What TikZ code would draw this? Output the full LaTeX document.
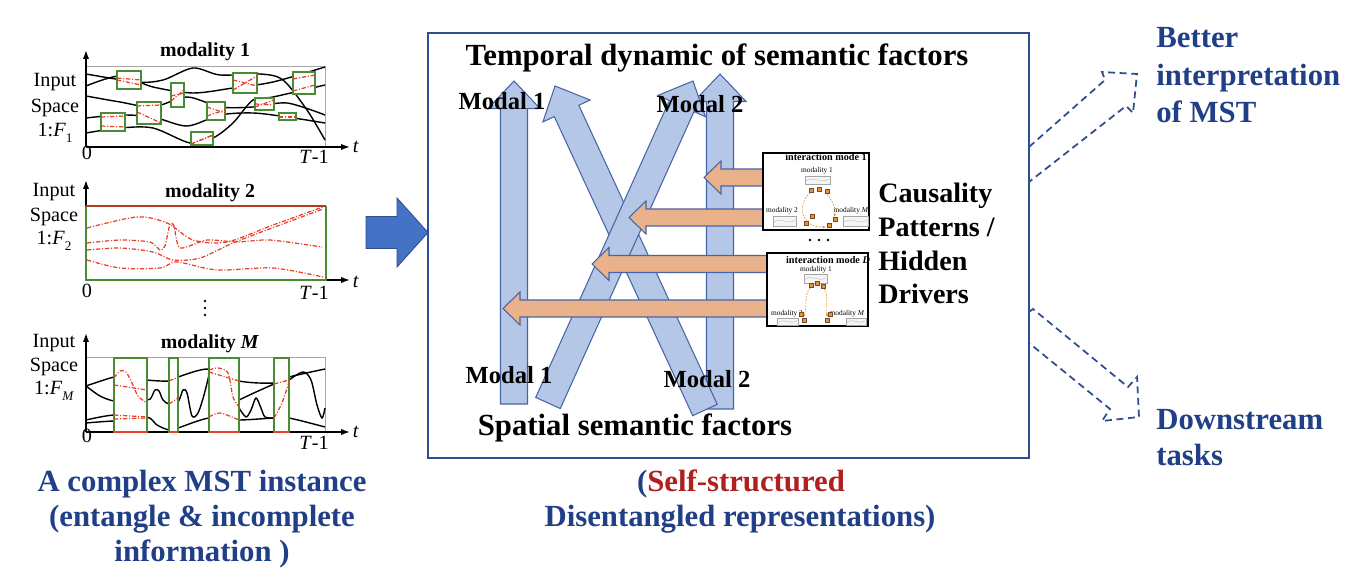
\documentclass[tikz,border=0pt]{standalone}
\usepackage{fontspec}
\setmainfont{Liberation Serif}
\usetikzlibrary{calc,arrows.meta}

\definecolor{mstblue}{RGB}{33,63,135}
\definecolor{selfred}{RGB}{176,32,30}
\definecolor{arrowfill}{RGB}{180,199,231}
\definecolor{arrowline}{RGB}{72,100,168}
\definecolor{bigblue}{RGB}{68,114,196}
\definecolor{orangefill}{RGB}{233,178,138}
\definecolor{boxline}{RGB}{47,78,143}
\definecolor{gapgreen}{RGB}{72,140,52}
\definecolor{missred}{RGB}{232,64,40}
\definecolor{topred}{RGB}{178,58,30}
\definecolor{sqorange}{RGB}{232,146,56}

% block arrow: style, tail, tip, half shaft, half head, head length
\newcommand{\blockarrow}[6]{%
  \coordinate (ba-base) at ($(#3)!#6!(#2)$);
  \draw[#1] ($(#2)!#4!90:(#3)$) -- ($(ba-base)!#4!90:(#3)$) -- ($(ba-base)!#5!90:(#3)$) -- (#3)
    -- ($(ba-base)!#5!-90:(#3)$) -- ($(ba-base)!#4!-90:(#3)$) -- ($(#2)!#4!-90:(#3)$) -- cycle;}
\newcommand{\idx}[1]{\raisebox{-0.25em}{\fontsize{7.5}{8}\selectfont #1}}

\begin{document}
\begin{tikzpicture}[x=0.02cm, y=-0.02cm,
  bigtext/.style={font=\fontsize{17.5}{20}\selectfont\bfseries, inner sep=0pt, anchor=base},
  causetext/.style={font=\fontsize{16}{19}\selectfont\bfseries, inner sep=0pt, anchor=base west},
  modaltext/.style={font=\fontsize{14}{16}\selectfont\bfseries, inner sep=0pt, anchor=base},
  axislabel/.style={font=\fontsize{11.5}{13}\selectfont, inner sep=0pt, anchor=base},
  plottitle/.style={font=\fontsize{11.3}{13}\selectfont\bfseries, inner sep=0pt, anchor=base},
  sigline/.style={line width=0.8pt},
  missline/.style={missred, line width=0.7pt, dash pattern=on 2.5pt off 1pt on 0.6pt off 1pt},
  gapbox/.style={gapgreen, line width=0.7pt, fill=white},
  plotaxis/.style={-{Latex[length=5pt,width=3.5pt]}, line width=0.8pt},
  bluearrow/.style={draw=arrowline, fill=arrowfill, line width=0.6pt},
  orangearrow/.style={draw=arrowline, fill=orangefill, line width=0.6pt},
  inarrow/.style={draw=boxline, fill=bigblue, line width=0.5pt},
  dasharrow/.style={draw=boxline, line width=1pt, dash pattern=on 4pt off 2.6pt},
  imbox/.style={draw=black, fill=white, line width=0.6pt, inner sep=0pt},
  imtitle/.style={font=\fontsize{5.8}{6}\selectfont\bfseries, inner sep=0pt, anchor=base},
  imlabel/.style={font=\fontsize{4.2}{5}\selectfont, inner sep=0pt, anchor=base},
  thumb/.style={draw=gray!70, fill=gray!8, line width=0.3pt},
  sq/.style={draw=brown!60!black, fill=sqorange, line width=0.2pt, minimum size=0.07cm, inner sep=0pt},
  flow/.style={sqorange, line width=0.35pt, dash pattern=on 1pt off 0.7pt, -{Latex[length=1.8pt,width=1.5pt]}}
  ]
\fill[white] (0,0) rectangle (1348,580);
\useasboundingbox (0,0) rectangle (1348,580);

% modality 1
\draw[gray!70, line width=0.5pt] (86,66) rectangle (325,147);
\draw[sigline] plot[smooth] coordinates {(86,74) (137,82) (163,80) (193,68) (220,75) (260,74) (283,80) (307,110) (325,140)};
\draw[sigline] plot[smooth] coordinates {(86,86) (120,76) (153,87) (193,93) (233,88) (273,82) (325,67)};
\draw[sigline] plot[smooth] coordinates {(86,96) (120,102) (153,107) (187,97) (220,107) (253,107) (287,103) (325,115)};
\draw[sigline] plot[smooth] coordinates {(86,118) (120,115) (153,117) (187,126) (220,115) (253,113) (287,117) (325,123)};
\draw[sigline] plot[smooth] coordinates {(86,133) (120,128) (153,128) (190,143) (213,138) (233,123) (253,100) (273,97) (325,85)};
\foreach \xa/\ya/\xb/\yb/\pa/\qa/\pb/\qb in {117/71/141/89/78/80/80/85, 171/83/184/107/101/90/96/93,
    137/102/161/124/106/105/112/123, 101/113/125/131/117/116/126/127, 191/132/213/145/144/135/144/135,
    207/102/225/120/107/113/116/110, 233/73/257/93/80/86/90/76, 255/98/274/110/107/100/104/105,
    279/113/296/120/117/117/117/117, 293/72/315/94/79/75/91/85} {
  \draw[gapbox] (\xa,\ya) rectangle (\xb,\yb);
  \draw[missline] (\xa,\pa) -- (\xb,\qa);
  \draw[missline] (\xa,\pb) -- (\xb,\qb);
}
\draw[plotaxis] (86,147) -- (86,50);
\draw[plotaxis] (86,147) -- (350,147);
\node[plottitle] (mt1) at (205,57) {modality 1};
\node[axislabel] (in1) at (55,87) {Input};
\node[axislabel] (sp1) at (55,113) {Space};
\node[axislabel] (fd1) at (55,137) {1:\textit{F}\idx{1}};
\node[axislabel] (z1) at (87,160) {0};
\node[axislabel] (e1) at (314,164) {\textit{T}-1};
\node[axislabel] (t1) at (356,153) {\textit{t}};

% modality 2
\draw[plotaxis] (86,280) -- (86,180);
\draw[plotaxis] (86,280) -- (350,280);
\draw[gapgreen, line width=0.9pt] (86,206) -- (86,280) -- (326,280) -- (326,206);
\draw[topred, line width=0.9pt] (86,206) -- (326,206);
\draw[missline] plot[smooth] coordinates {(87,228) (137,217) (167,223) (193,240) (227,242) (273,225) (323,207)};
\draw[missline] plot[smooth, tension=0.4] coordinates {(87,243) (120,240) (150,242) (160,250) (165,246) (170,224) (174,226) (180,248) (207,240) (237,242) (270,240) (322,247)};
\draw[missline] plot[smooth] coordinates {(87,250) (120,248) (153,252) (173,260) (200,258) (233,243) (280,225) (323,209)};
\draw[missline] plot[smooth] coordinates {(87,260) (120,268) (160,268) (177,262) (217,270) (273,268) (323,277)};
\node[plottitle] (mt2) at (210,198) {modality 2};
\node[axislabel] (in2) at (54,197) {Input};
\node[axislabel] (sp2) at (54,222) {Space};
\node[axislabel] (fd2) at (54,245) {1:\textit{F}\idx{2}};
\node[axislabel] (z2) at (87,298) {0};
\node[axislabel] (e2) at (314,300) {\textit{T}-1};
\node[axislabel] (t2) at (356,288) {\textit{t}};
\foreach \yy in {301,308,315} \fill (205,\yy) circle (1.3);

% modality M
\draw[gray!70, line width=0.5pt] (86,357) rectangle (325,432);
\draw[sigline] plot[smooth] coordinates {(86,386) (114,377) (130,376) (147,380) (169,381) (178,377) (209,369) (239,381) (274,383) (289,377) (325,369)};
\draw[sigline] plot[smooth, tension=0.5] coordinates {(86,386) (100,396) (114,401) (130,401) (147,400) (151,398) (155,390) (159,391) (163,400) (169,404) (178,402) (183,390) (187,393) (192,416) (198,413) (204,395) (209,375)};
\draw[sigline] plot[smooth, tension=0.5] coordinates {(239,408) (246,417) (251,410) (256,398) (261,408) (265,417) (274,418)};
\draw[sigline] plot[smooth] coordinates {(239,400) (256,392) (274,384)};
\draw[sigline] plot[smooth, tension=0.5] coordinates {(289,380) (303,372) (311,380) (317,405) (322,418) (325,408)};
\draw[sigline] plot[smooth] coordinates {(86,420) (114,415) (147,417) (157,425) (169,430) (178,428) (209,418) (239,420) (274,418) (289,418) (325,427)};
\draw[sigline] plot[smooth] coordinates {(86,423) (114,421) (147,421)};
\draw[plotaxis] (86,432) -- (86,333);
\draw[plotaxis] (86,432) -- (350,432);
\foreach \xa/\xb in {114/147, 169/178, 209/239, 274/289} {
  \draw[gapbox] (\xa,358) rectangle (\xb,432);
  \draw[missred, line width=0.9pt] (\xa,432) -- (\xb,432);
}
\draw[missline] plot[smooth] coordinates {(114,378) (120,371) (126,372) (132,383) (138,396) (147,403)};
\draw[missline] (114,385) -- (147,390);
\draw[missline] (114,415) -- (147,417);
\draw[missline] (114,419) -- (147,418);
\draw[missline] (169,381) -- (178,377);
\draw[missline] (169,404) -- (178,398);
\draw[missline] plot[smooth] coordinates {(209,370) (218,368) (228,373) (233,397) (239,407)};
\draw[missline] (209,372) -- (239,381);
\draw[missline] plot[smooth] coordinates {(209,417) (220,413) (239,420)};
\draw[missline] (274,384) -- (289,380);
\draw[missline] plot[smooth] coordinates {(274,418) (282,403) (289,382)};
\node[plottitle] (mt3) at (210,349) {modality \textit{M}};
\node[axislabel] (in3) at (54,348) {Input};
\node[axislabel] (sp3) at (54,372) {Space};
\node[axislabel] (fd3) at (54,395) {1:\textit{F}\idx{\textit{M}}};
\node[axislabel] (z3) at (87,442) {0};
\node[axislabel] (e3) at (314,450) {\textit{T}-1};
\node[axislabel] (t3) at (356,438) {\textit{t}};

% input arrow and representation box
\coordinate (ina) at (366,232.5);
\coordinate (inb) at (428,232.5);
\blockarrow{inarrow}{ina}{inb}{0.32cm}{0.69cm}{0.62cm}
\node[draw=boxline, line width=0.7pt, minimum width=12.02cm, minimum height=8.5cm, inner sep=0pt] (repbox) at (728.5,245.5) {};

% modal arrows
\coordinate (tm1a) at (514,404); \coordinate (tm1b) at (514,81);
\coordinate (tm2a) at (720,409); \coordinate (tm2b) at (720,74);
\coordinate (sm2a) at (705,410); \coordinate (sm2b) at (555,86);
\coordinate (sm1a) at (548,403); \coordinate (sm1b) at (693,81);
\blockarrow{bluearrow}{tm1a}{tm1b}{0.27cm}{0.52cm}{0.55cm}
\blockarrow{bluearrow}{tm2a}{tm2b}{0.27cm}{0.52cm}{0.55cm}
\blockarrow{bluearrow}{sm2a}{sm2b}{0.27cm}{0.52cm}{0.55cm}
\blockarrow{bluearrow}{sm1a}{sm1b}{0.27cm}{0.52cm}{0.55cm}

% causal arrows
\coordinate (c1a) at (764,177.5); \coordinate (c1b) at (704,177.5);
\coordinate (c2a) at (764,217.5); \coordinate (c2b) at (629,217.5);
\coordinate (c3a) at (768,264); \coordinate (c3b) at (592,264);
\coordinate (c4a) at (768,308.5); \coordinate (c4b) at (503,308.5);
\foreach \n in {1,2,3,4} {\blockarrow{orangearrow}{c\n a}{c\n b}{0.17cm}{0.33cm}{0.34cm}}

% interaction mode 1
\node[imbox, minimum width=2.12cm, minimum height=1.54cm] (im1) at (816,191.5) {};
\node[imtitle] (im1t) at (826,161) {interaction mode 1};
\node[imlabel] (im1a) at (817,173) {modality 1};
\node[imlabel] (im1b) at (782,213) {modality 2};
\node[imlabel] (im1c) at (851,213) {modality \textit{M}};
% interaction mode D
\node[imbox, minimum width=2.02cm, minimum height=1.46cm] (imd) at (817.5,289.5) {};
\node[imtitle] (imdt) at (828,264) {interaction mode \textit{D}};
\node[imlabel] (imda) at (816,272) {modality 1};
\node[imlabel] (imdb) at (787,316) {modality 2};
\node[imlabel] (imdc) at (847,316) {modality \textit{M}};
\foreach \xa/\ya/\xb/\yb in {805/176/830/184, 773/216/796/226, 843/216/868/226, 804/274/827/283, 777/318/798/325, 846/318/866/325} {
  \draw[thumb] (\xa,\ya) rectangle (\xb,\yb);
  \draw[gray!60, line width=0.2pt] ({\xa+1},{\ya+0.6*(\yb-\ya)}) .. controls ({\xa+0.4*(\xb-\xa)},{\ya}) and ({\xa+0.6*(\xb-\xa)},{\yb}) .. ({\xb-1},{\ya+0.4*(\yb-\ya)});
}
\draw[flow] (810,193) .. controls (797,203) and (800,228) .. (826,227);
\draw[flow] (827,194) .. controls (834,203) and (836,210) .. (834,217);
\draw[flow] (810,288) .. controls (803,297) and (808,306) .. (803,317);
\draw[flow] (824,289) .. controls (830,297) and (824,308) .. (828,317);
\foreach \p/\q in {811/190, 819/189, 827/191, 812/216, 806/223, 835/219, 829/225,
    811/285, 817/283, 823/286, 801/314, 804/320, 830/314, 827/320} \node[sq] at (\p,\q) {};
\foreach \p in {810,819,828} \fill (\p,240) circle (1.3);

% texts in the box
\node[bigtext] (temporal) at (717,66) {Temporal dynamic of semantic factors};
\node[bigtext] (spatial) at (635,436) {Spatial semantic factors};
\node[modaltext] (m1top) at (502,110) {Modal 1};
\node[modaltext] (m2top) at (700,113) {Modal 2};
\node[modaltext] (m1bot) at (509,384) {Modal 1};
\node[modaltext] (m2bot) at (707,388) {Modal 2};
\node[causetext] (cau1) at (878,203) {Causality};
\node[causetext] (cau2) at (878,237) {Patterns /};
\node[causetext] (cau3) at (878,271) {Hidden};
\node[causetext] (cau4) at (878,304) {Drivers};

% outputs
\draw[dasharrow] (1029,147) -- (1105,80) -- (1102,72) -- (1137,74) -- (1133,113) -- (1126,106) -- (1029,182);
\draw[dasharrow] (1029,312) -- (1033,309) -- (1128,387) -- (1137,377) -- (1139,417) -- (1102,421) -- (1110,409) -- (1029,343);
\node[bigtext, anchor=base west, text=mstblue] (out1) at (1156,48) {Better};
\node[bigtext, anchor=base west, text=mstblue] (out2) at (1156,86) {interpretation};
\node[bigtext, anchor=base west, text=mstblue] (out3) at (1156,123) {of MST};
\node[bigtext, anchor=base west, text=mstblue] (out4) at (1156,430) {Downstream};
\node[bigtext, anchor=base west, text=mstblue] (out5) at (1156,465) {tasks};

% captions
\node[bigtext, text=mstblue] (cap1) at (202,491) {A complex MST instance};
\node[bigtext, text=mstblue] (cap2) at (202,526) {(entangle \& incomplete};
\node[bigtext, text=mstblue] (cap3) at (202,561) {information )};
\node[bigtext, text=mstblue] (cap4) at (741,491) {(\textcolor{selfred}{Self-structured}};
\node[bigtext, text=mstblue] (cap5) at (740,526) {Disentangled representations)};
\end{tikzpicture}
\end{document}
